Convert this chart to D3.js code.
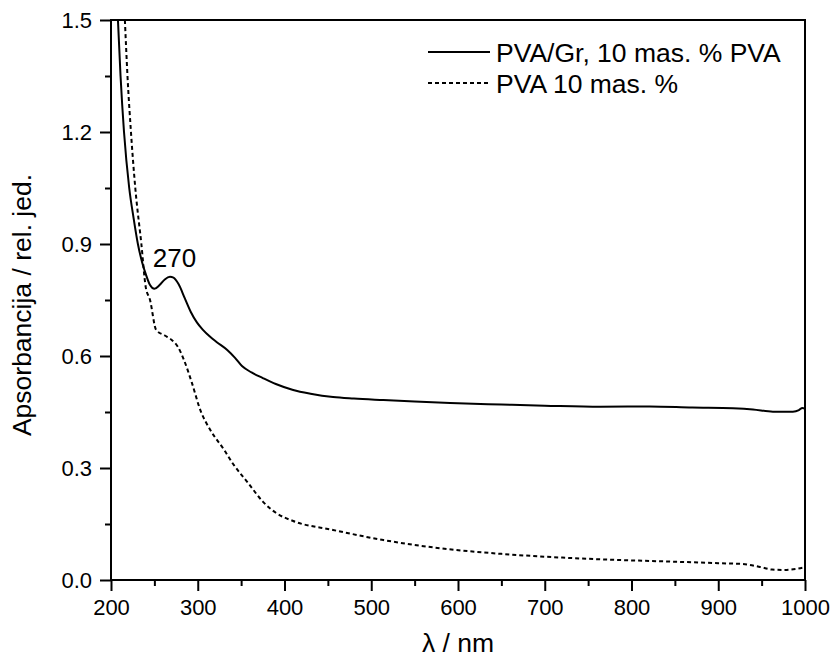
<!DOCTYPE html>
<html>
<head>
<meta charset="utf-8">
<script src="https://cdn.jsdelivr.net/npm/d3@7"></script>
<style>
  html, body { margin: 0; padding: 0; background: #fff; }
  svg { display: block; }
  text { font-family: "Liberation Sans", Arial, sans-serif; fill: #000; }
</style>
</head>
<body>
<svg id="chart" width="832" height="662"></svg>
<script>
// ---- data ----
const seriesNames = ["PVA/Gr, 10 mas. % PVA", "PVA 10 mas. %"];
const pvaGrWavelength = [208,211,215,221,226,231,236,240,245,250,256,262,268,272,278,285,292,299,306,314,322,334,343,351,362,375,390,410,430,456,480,514,550,591,650,700,764,821,870,917,940,963,986,993,997,1000];
const pvaGrAbs =        [1.50,1.35,1.20,1.05,0.97,0.90,0.85,0.82,0.790,0.780,0.790,0.805,0.812,0.810,0.792,0.755,0.718,0.690,0.670,0.652,0.637,0.616,0.595,0.573,0.556,0.541,0.525,0.509,0.499,0.490,0.486,0.482,0.478,0.474,0.470,0.467,0.464,0.465,0.462,0.460,0.457,0.451,0.451,0.455,0.461,0.459];
const pvaWavelength = [216,219,223,228,235,240,245,252,262,270,277,284,293,303,315,330,341,358,375,390,410,456,514,580,650,720,780,850,900,928,948,962,975,990,1000];
const pvaAbs =        [1.50,1.35,1.20,1.05,0.90,0.785,0.75,0.67,0.655,0.643,0.625,0.59,0.53,0.455,0.40,0.35,0.31,0.26,0.21,0.18,0.158,0.134,0.107,0.085,0.070,0.060,0.054,0.049,0.045,0.043,0.035,0.028,0.027,0.030,0.034];
const xTicks = [200,300,400,500,600,700,800,900,1000];
const xMinorTicks = [250,350,450,550,650,750,850,950];
const yTicks = [0.0,0.3,0.6,0.9,1.2,1.5];
const yMinorTicks = [0.15,0.45,0.75,1.05,1.35];
const peakLabel = {x: 270, y: 0.812, text: "270"};
const xTitle = "λ / nm";
const yTitle = "Apsorbancija / rel. jed.";

// ---- layout ----
const svg = d3.select("#chart");
const L = 111, R = 805, T = 20, B = 580;
const x = d3.scaleLinear().domain([200, 1000]).range([L, R]);
const y = d3.scaleLinear().domain([0, 1.5]).range([B, T]);

svg.append("defs").append("clipPath").attr("id", "clip")
  .append("rect").attr("x", L).attr("y", T).attr("width", R - L).attr("height", B - T);

const fmt = d3.format(".1f");

// axes
const xAxis = svg.append("g").attr("transform", `translate(0,${B})`)
  .call(d3.axisBottom(x).tickValues(xTicks).tickSize(11).tickPadding(8).tickFormat(d3.format("d")));
const xMinor = svg.append("g").attr("transform", `translate(0,${B})`)
  .call(d3.axisBottom(x).tickValues(xMinorTicks).tickSize(6).tickFormat(""));
const yAxis = svg.append("g").attr("transform", `translate(${L},0)`)
  .call(d3.axisLeft(y).tickValues(yTicks).tickSize(11).tickPadding(8).tickFormat(fmt));
const yMinor = svg.append("g").attr("transform", `translate(${L},0)`)
  .call(d3.axisLeft(y).tickValues(yMinorTicks).tickSize(6).tickFormat(""));

[xAxis, xMinor, yAxis, yMinor].forEach(g => {
  g.select(".domain").remove();
  g.selectAll(".tick line").attr("stroke", "#000").attr("stroke-width", 2);
  g.selectAll(".tick text").style("font-size", "22px").attr("fill", "#000");
});

// frame
svg.append("rect").attr("x", L).attr("y", T).attr("width", R - L).attr("height", B - T)
  .attr("fill", "none").attr("stroke", "#000").attr("stroke-width", 2);

// lines
const line = d3.line().x(d => x(d[0])).y(d => y(d[1])).curve(d3.curveMonotoneX);
const solidData = pvaGrWavelength.map((w, i) => [w, pvaGrAbs[i]]);
const dashData = pvaWavelength.map((w, i) => [w, pvaAbs[i]]);

const plot = svg.append("g").attr("clip-path", "url(#clip)");
plot.append("path").datum(solidData).attr("d", line)
  .attr("fill", "none").attr("stroke", "#000").attr("stroke-width", 2);
plot.append("path").datum(dashData).attr("d", line)
  .attr("fill", "none").attr("stroke", "#000").attr("stroke-width", 2).attr("stroke-dasharray", "4,3");

// peak label
svg.append("text").attr("x", x(peakLabel.x) - 19).attr("y", y(peakLabel.y) - 10)
  .style("font-size", "26px").text(peakLabel.text);

// legend
const leg = svg.append("g");
const legRows = [{name: seriesNames[0], dash: null, yy: 52}, {name: seriesNames[1], dash: "4,3", yy: 83}];
legRows.forEach(r => {
  leg.append("line").attr("x1", 428).attr("x2", 490).attr("y1", r.yy).attr("y2", r.yy)
    .attr("stroke", "#000").attr("stroke-width", 2).attr("stroke-dasharray", r.dash);
  leg.append("text").attr("x", 496).attr("y", r.yy).attr("dy", "0.36em")
    .style("font-size", "26.5px").text(r.name);
});

// axis titles
svg.append("text").attr("x", (L + R) / 2).attr("y", 652).attr("text-anchor", "middle")
  .style("font-size", "26.5px").text(xTitle);
svg.append("text").attr("transform", `translate(31,${(T + B) / 2 + 5}) rotate(-90)`)
  .attr("text-anchor", "middle").style("font-size", "26.5px").text(yTitle);
</script>
</body>
</html>
